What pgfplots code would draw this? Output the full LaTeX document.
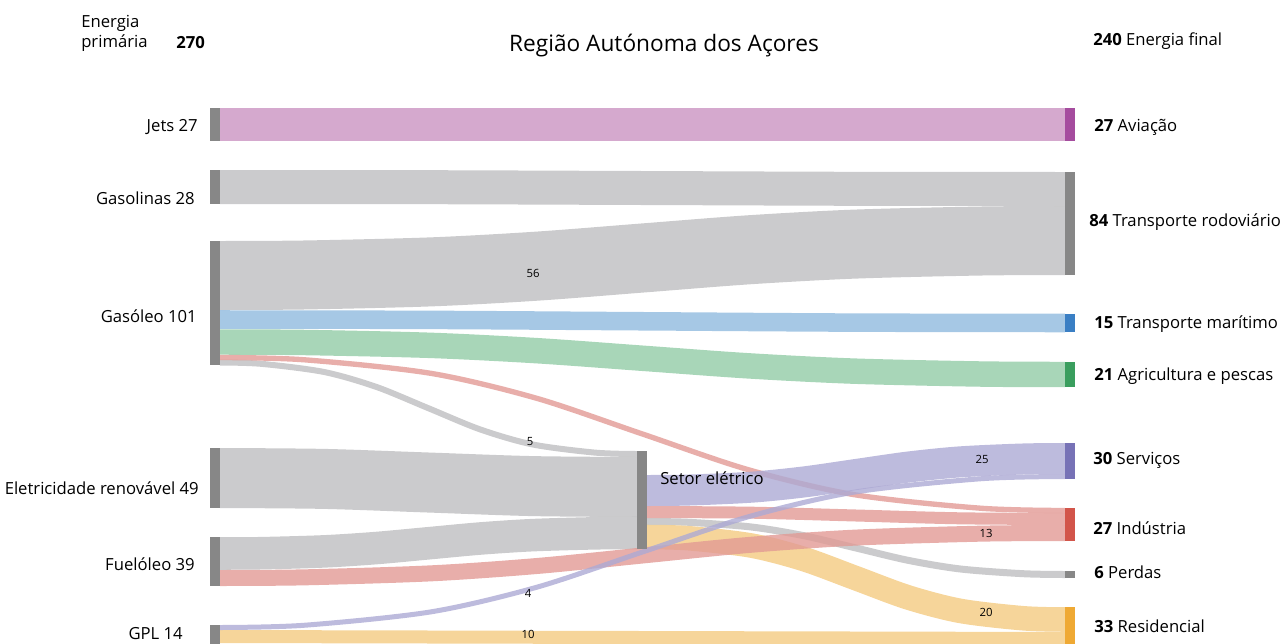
\documentclass[border=0pt]{standalone}
\usepackage{fontspec}
\setmainfont{Open Sans}
\usepackage{pgfplots}
\pgfplotsset{compat=1.18}

% band colours (drawn at 80% opacity)
\definecolor{jetc}{HTML}{CB94C2}
\definecolor{greyc}{HTML}{BEBEC0}
\definecolor{bluec}{HTML}{90BADF}
\definecolor{greenc}{HTML}{92CCA6}
\definecolor{purpc}{HTML}{ADAAD4}
\definecolor{redc}{HTML}{E29A95}
\definecolor{orc}{HTML}{F4CB81}
% node colours
\definecolor{nodeg}{HTML}{878787}
\definecolor{aviac}{HTML}{A54C9E}
\definecolor{marc}{HTML}{3A7FC4}
\definecolor{agrc}{HTML}{3A9E5E}
\definecolor{servc}{HTML}{7772B6}
\definecolor{indc}{HTML}{D2554A}
\definecolor{resc}{HTML}{EFA934}

\newcommand\lab{\fontsize{12.5}{14}\selectfont}
\newcommand\smallnum{\fontsize{8.5}{10}\selectfont}

\begin{document}
\begin{tikzpicture}
\begin{axis}[
    name=ax,
    hide axis,
    scale only axis,
    width=961.5pt, height=482.25pt,
    xmin=0, xmax=1282, ymin=0, ymax=643,
    y dir=reverse,
    clip=false,
    flow/.style={no marks, smooth, draw opacity=0.8},
    bar/.style={no marks, line width=7.5pt},
]

% ---- flows: centre line, width = value in px * 0.75pt
\addplot[flow, color=jetc, line width=24.75pt] coordinates {(220,124.5) (1065,124.5)};
\addplot[flow, color=greyc, line width=25.5pt] coordinates {(220,187) (431,187.2) (642,188) (854,188.8) (1065,189)};
\addplot[flow, color=greyc, line width=51.75pt] coordinates {(220,275.5) (304.5,274.98) (431.25,271.86) (536.9,266.15) (642.5,258) (748.1,249.84) (853.75,244.14) (980.5,241.02) (1065,240.5)};
\addplot[flow, color=bluec, line width=13.9pt] coordinates {(220,319.5) (431,319.9) (642,321.25) (854,322.6) (1065,323)};
\addplot[flow, color=greenc, line width=19.1pt] coordinates {(220,342) (304.5,342.49) (431.25,345.38) (536.9,350.68) (642.5,358.25) (748.1,365.82) (853.75,371.12) (980.5,374.01) (1065,374.5)};
\addplot[flow, color=greyc, line width=4.5pt] coordinates {(220,362.5) (261.7,363.87) (324.25,372.02) (376.4,386.93) (428.5,408.25) (480.6,429.57) (532.75,444.48) (595.3,452.63) (637,454)};
\addplot[flow, color=greyc, line width=45pt] coordinates {(220,478) (324,478.9) (428,482.5) (533,486.1) (637,487)};
\addplot[flow, color=greyc, line width=24.4pt] coordinates {(220,553.5) (261.7,553.19) (324.25,551.37) (376.4,548.03) (428.5,543.25) (480.6,538.47) (532.75,535.13) (595.3,533.31) (637,533)};
\addplot[flow, color=greyc, line width=5.25pt] coordinates {(647,521.5) (688.8,522.3) (751.5,527.01) (803.75,535.65) (856,548) (908.25,560.35) (960.5,568.99) (1023.2,573.7) (1065,574.5)};
\addplot[flow, color=orc, line width=18.4pt] coordinates {(647,537) (688.8,538.24) (751.5,545.58) (803.75,559.03) (856,578.25) (908.25,597.47) (960.5,610.92) (1023.2,618.26) (1065,619.5)};
\addplot[flow, color=orc, line width=9.75pt] coordinates {(220,636.5) (1065,638.5)};
\addplot[flow, color=redc, line width=12pt] coordinates {(220,578) (304.5,577.33) (431.25,573.32) (536.9,565.99) (642.5,555.5) (748.1,545.01) (853.75,537.68) (980.5,533.67) (1065,533)};
\addplot[flow, color=redc, line width=9pt] coordinates {(647,512) (752,512.7) (856,515.5) (960,518.3) (1065,519)};
\addplot[flow, color=redc, line width=4pt] coordinates {(220,357.5) (304.5,359.8) (431.25,373.4) (536.9,398.35) (642.5,434) (748.1,469.65) (853.75,494.59) (980.5,508.2) (1065,510.5)};
\addplot[flow, color=purpc, line width=23.25pt] coordinates {(647,490.5) (688.8,490.02) (751.5,487.17) (803.75,481.96) (856,474.5) (908.25,467.04) (960.5,461.83) (1023.2,458.98) (1065,458.5)};
\addplot[flow, color=purpc, line width=3.75pt] coordinates {(220,627.5) (304.5,625.23) (431.25,611.8) (536.9,587.18) (642.5,552) (748.1,516.82) (853.75,492.2) (980.5,478.77) (1065,476.5)};

% ---- nodes
\addplot[bar, color=nodeg] coordinates {(215,108) (215,141)};
\addplot[bar, color=nodeg] coordinates {(215,170) (215,204)};
\addplot[bar, color=nodeg] coordinates {(215,241) (215,365)};
\addplot[bar, color=nodeg] coordinates {(215,448) (215,508)};
\addplot[bar, color=nodeg] coordinates {(215,537) (215,586)};
\addplot[bar, color=nodeg] coordinates {(215,625) (215,650)};
\addplot[bar, color=nodeg] coordinates {(642,451) (642,549)};
\addplot[bar, color=aviac] coordinates {(1070,108) (1070,141)};
\addplot[bar, color=nodeg] coordinates {(1070,172) (1070,275)};
\addplot[bar, color=marc] coordinates {(1070,314) (1070,332)};
\addplot[bar, color=agrc] coordinates {(1070,362) (1070,387)};
\addplot[bar, color=servc] coordinates {(1070,443) (1070,479)};
\addplot[bar, color=indc] coordinates {(1070,508) (1070,541)};
\addplot[bar, color=nodeg] coordinates {(1070,571) (1070,578)};
\addplot[bar, color=resc] coordinates {(1070,607) (1070,650)};

% ---- texts
\node[font=\fontsize{17}{20}\selectfont] at (axis cs:664,46) {Região Autónoma dos Açores};
\node[font=\lab, anchor=west, inner sep=0pt] at (axis cs:81,23) {Energia};
\node[font=\lab, anchor=west, inner sep=0pt] at (axis cs:81,43) {primária};
\node[font=\lab\bfseries, anchor=west, inner sep=0pt] at (axis cs:176,43) {270};
\node[font=\lab, anchor=west, inner sep=0pt] at (axis cs:1093,41) {\textbf{240} Energia final};

\begin{scope}[every node/.style={font=\lab, anchor=east, inner sep=0pt}]
\node at (axis cs:198,127) {Jets 27};
\node at (axis cs:195,198) {Gasolinas 28};
\node at (axis cs:197,316) {Gasóleo 101};
\node at (axis cs:199,488) {Eletricidade renovável 49};
\node at (axis cs:195,564) {Fuelóleo 39};
\node at (axis cs:183,634) {GPL 14};
\end{scope}

\begin{scope}[every node/.style={font=\lab, anchor=west, inner sep=0pt}]
\node at (axis cs:1094,127) {\textbf{27} Aviação};
\node at (axis cs:1089,222) {\textbf{84} Transporte rodoviário};
\node at (axis cs:1094,324) {\textbf{15} Transporte marítimo};
\node at (axis cs:1094,376) {\textbf{21} Agricultura e pescas};
\node at (axis cs:1093,460) {\textbf{30} Serviços};
\node at (axis cs:1093,528) {\textbf{27} Indústria};
\node at (axis cs:1094,572) {\textbf{6} Perdas};
\node at (axis cs:1094,626) {\textbf{33} Residencial};
\node at (axis cs:660,478) {Setor elétrico};
\end{scope}

\begin{scope}[every node/.style={font=\smallnum, inner sep=0pt}]
\node at (axis cs:533,273) {56};
\node at (axis cs:530,442) {5};
\node at (axis cs:982,459) {25};
\node at (axis cs:986,533) {13};
\node at (axis cs:986,612) {20};
\node at (axis cs:528,593) {4};
\node at (axis cs:528,634) {10};
\end{scope}
\end{axis}
\pgfresetboundingbox
\path (ax.south west) rectangle (ax.north east);
\end{tikzpicture}
\end{document}
